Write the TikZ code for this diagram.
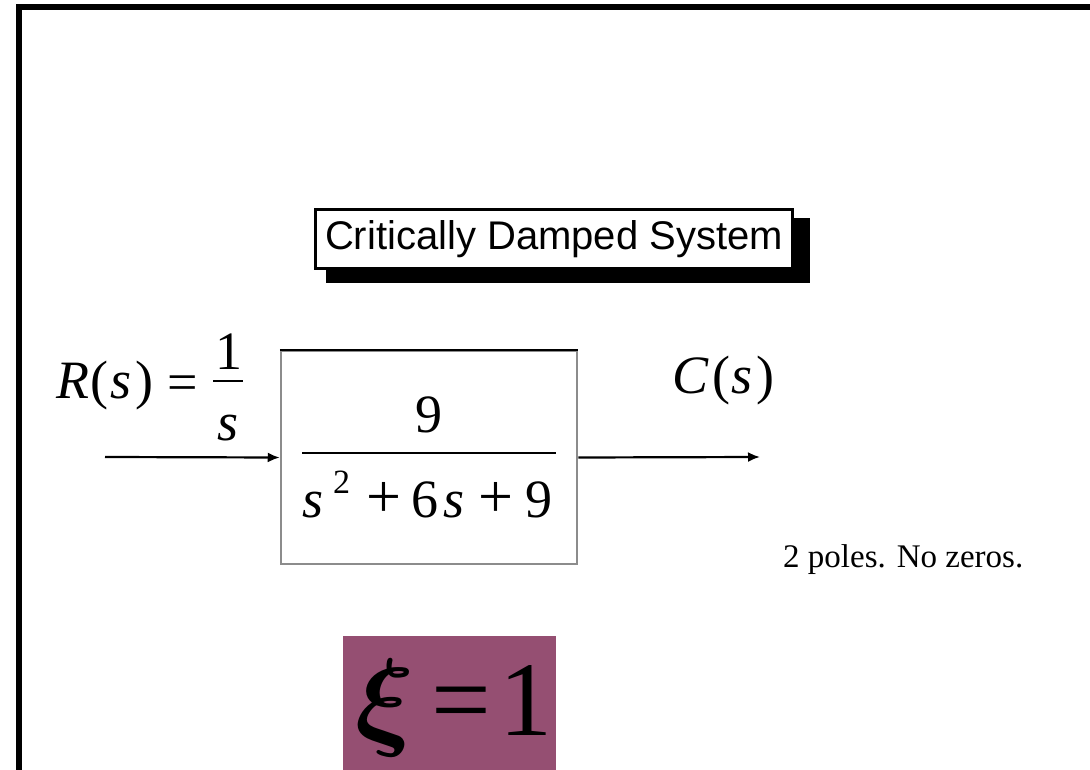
\documentclass[tikz,border=0pt]{standalone}
\usepackage{fontspec}
\usepackage{graphicx}
\setmainfont{Liberation Serif}
\newfontfamily\titlefont{Liberation Sans}
\usetikzlibrary{arrows.meta}
\definecolor{xipurple}{HTML}{954F72}
\begin{document}
\begin{tikzpicture}[x=1pt,y=-1pt,
  mt/.style={inner sep=0pt, anchor=base, font=\fontsize{54}{60}\selectfont},
  plus/.style={inner sep=0pt, anchor=base, font=\fontsize{62}{70}\selectfont},
  supnum/.style={inner sep=0pt, anchor=base, font=\fontsize{34}{40}\selectfont},
  big/.style={inner sep=0pt, anchor=base, font=\fontsize{106}{120}\selectfont},
  sig/.style={line width=2.2pt, -{Latex[length=12pt,width=10pt]}},
  bar/.style={line width=2.2pt}]
\useasboundingbox (0,0) rectangle (1090,770);
% frame
\draw[line width=6pt] (19,780) -- (19,7) -- (1100,7);
% title with shadow
\fill (326,218) rectangle (810,283);
\node[draw, line width=3pt, fill=white, minimum width=477pt, minimum height=59pt,
      inner sep=0pt, font=\titlefont\fontsize{40}{48}\selectfont] (title) at (554,239)
      {Critically Damped System};
% R(s) = 1/s
\node[mt] (R) at (72.5,398) {\itshape R};
\node[mt] (Rlp) at (99.5,398) {(};
\node[mt] (Rs) at (121.5,398) {\itshape s};
\node[mt] (Rrp) at (144.5,398) {)};
\node[mt] (Req) at (182.5,400) {=};
\node[mt] (Rone) at (229,369) {1};
\coordinate (rb1) at (213,381);
\coordinate (rb2) at (243,381);
\draw[bar] (rb1) -- (rb2);
\node[mt] (Rden) at (228,440) {\itshape s};
% block
\node[draw=black!45, line width=2.5pt, minimum width=296pt, minimum height=213pt,
      inner sep=0pt] (block) at (429,457.5) {};
\draw[line width=2.5pt] (block.north west) -- (block.north east);
\node[mt] (num) at (428.5,432) {9};
\coordinate (fb1) at (302,453);
\coordinate (fb2) at (556,453);
\draw[bar] (fb1) -- (fb2);
\node[mt] (d1) at (313,517) {\itshape s};
\node[supnum] (d2) at (341.5,493) {2};
\node[plus] (d3) at (383.5,517) {+};
\node[mt] (d4) at (425,517) {6};
\node[mt] (d5) at (454.5,517) {\itshape s};
\node[plus] (d6) at (495.5,517) {+};
\node[mt] (d7) at (538.5,517) {9};
% arrows
\coordinate (in) at (105,457);
\coordinate (out) at (760,457);
\draw[sig] (in) -- (block.west);
\draw[sig] (block.east) -- (out);
% C(s)
\node[mt] (C) at (690.5,393) {\itshape C};
\node[mt] (Clp) at (721.5,393) {(};
\node[mt] (Cs) at (742,393) {\itshape s};
\node[mt] (Crp) at (765,393) {)};
% note
\node[inner sep=0pt, anchor=base west, font=\fontsize{33}{40}\selectfont] (poles)
      at (783,567) {2 poles. No zeros.};
% xi = 1
\node[fill=xipurple, minimum width=213pt, minimum height=140pt, inner sep=0pt,
      anchor=north west] (xibox) at (343,636) {};
\node[inner sep=0pt, anchor=base, font=\fontsize{20}{24}\selectfont] (xi) at (385,735)
      {\scalebox{5.3}{\boldmath$\xi$}};
\node[big] (xieq) at (461.5,735) {=};
\node[big] (xione) at (526,735) {1};
\end{tikzpicture}
\end{document}
